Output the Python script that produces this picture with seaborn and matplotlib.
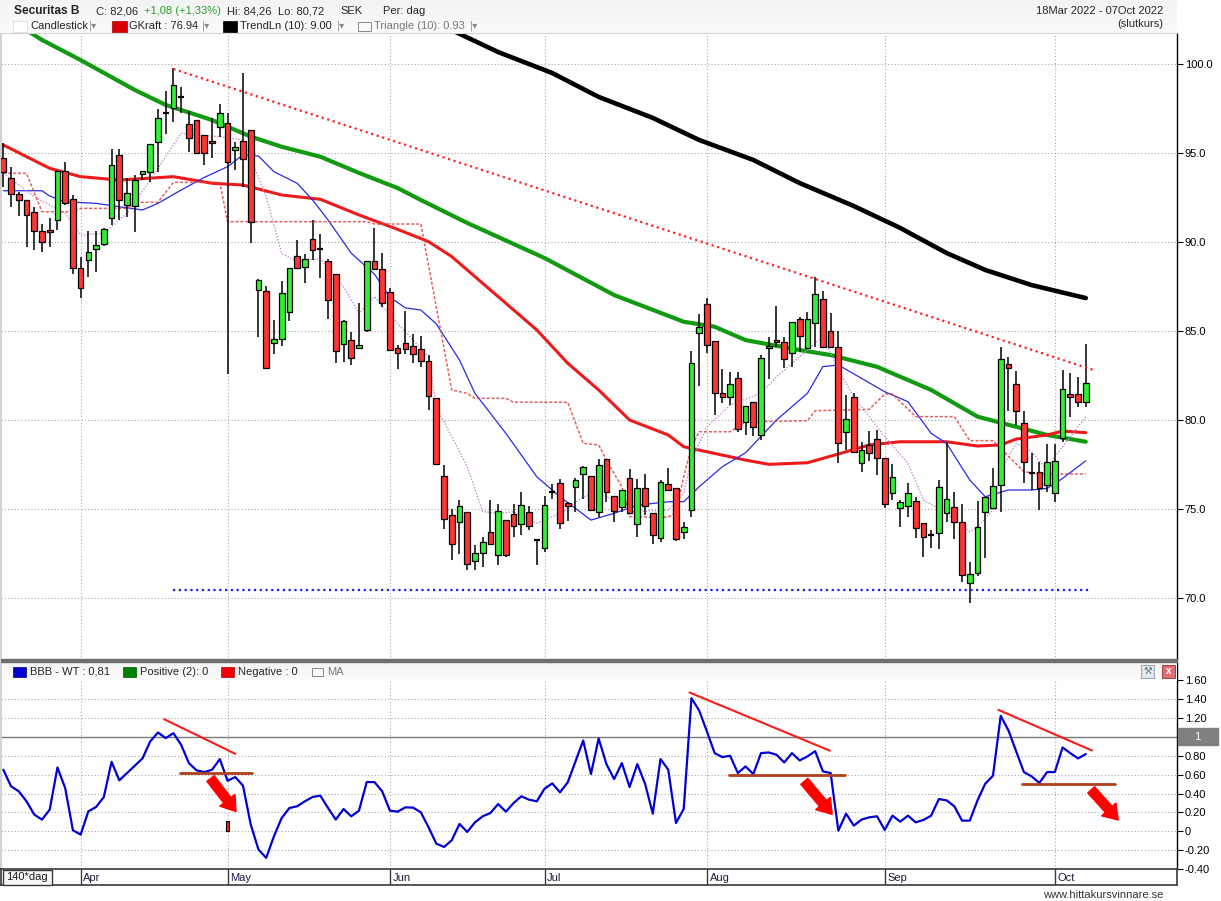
import numpy as np
import matplotlib
matplotlib.use("Agg")
import matplotlib.pyplot as plt
from matplotlib.patches import Rectangle
import seaborn as sns

# ---------------- data ----------------
opens = [94.70,93.58,92.68,92.34,91.67,90.60,90.67,91.24,93.99,92.40,
         88.52,88.99,89.59,89.89,91.33,94.87,92.08,92.02,93.80,93.95,
         95.64,97.27,97.51,98.13,96.61,96.85,96.01,95.69,96.44,96.70,
         95.17,95.67,96.29,87.32,87.27,84.34,84.57,86.07,89.23,88.60,
         90.19,89.59,88.95,88.18,84.29,84.51,84.06,85.07,88.95,88.50,
         87.21,84.07,84.35,84.18,84.00,83.33,81.25,76.87,74.68,74.27,
         74.83,72.06,72.55,73.71,72.43,74.40,74.74,74.14,74.83,73.28,
         72.83,75.96,76.46,75.36,76.24,76.95,76.83,74.83,77.83,75.71,
         75.11,76.76,74.14,76.20,74.78,73.39,76.39,76.20,73.71,74.94,
         84.87,86.50,84.44,81.50,81.27,82.34,79.91,81.00,79.16,84.03,
         84.49,84.36,83.75,85.66,84.03,85.47,86.78,85.00,84.08,79.34,
         81.27,77.57,78.58,78.91,77.85,75.92,75.04,75.17,75.45,74.19,
         73.54,73.64,74.76,75.09,74.25,70.82,71.39,74.81,75.04,76.35,
         83.13,82.00,79.81,77.04,77.06,76.35,75.92,78.97,81.44,81.44,
         80.99]
highs = [95.54,94.23,92.83,92.34,91.99,91.00,91.33,94.00,94.49,92.62,
         89.14,90.64,90.62,90.80,95.21,95.24,93.61,93.76,94.00,95.50,
         97.45,98.48,99.76,98.73,97.38,96.85,96.01,96.95,97.75,97.27,
         95.64,99.48,96.30,87.90,87.51,85.60,87.79,88.56,90.09,89.34,
         91.25,90.43,89.05,88.20,85.60,84.96,86.55,88.95,90.77,89.40,
         87.41,84.24,86.11,84.85,84.70,83.67,81.25,77.45,75.00,75.49,
         74.83,72.96,73.43,75.52,75.30,74.40,75.26,75.96,75.15,73.30,
         75.71,76.42,76.70,75.40,76.76,77.42,76.85,77.83,77.83,75.71,
         76.09,77.27,76.70,76.95,74.78,76.65,77.32,76.20,74.27,83.88,
         85.96,86.84,84.44,82.87,82.68,82.68,80.79,81.00,83.65,84.68,
         86.40,84.68,85.50,85.80,86.09,88.01,87.27,85.99,85.00,81.40,
         81.50,78.78,79.38,79.44,77.85,77.53,75.51,76.44,75.69,74.19,
         73.82,76.63,78.69,75.97,75.26,72.00,75.47,75.70,77.28,84.12,
         83.56,82.75,80.52,78.13,77.66,78.65,78.65,82.81,82.62,82.43,
         84.26]
lows = [93.11,91.99,91.48,89.74,89.55,89.46,89.70,90.67,92.08,88.20,
        86.84,88.01,88.30,89.78,90.96,91.24,91.42,90.58,93.50,93.39,
        93.95,96.07,96.76,97.23,95.07,95.02,94.33,94.70,95.92,82.57,
        94.04,93.11,89.96,84.66,82.90,83.73,84.16,85.56,88.56,87.70,
        88.97,87.95,85.68,83.20,83.26,83.09,83.97,84.94,88.50,86.35,
        83.86,82.89,83.73,83.20,82.98,80.58,77.55,73.90,72.12,72.49,
        71.55,71.55,71.74,73.05,71.84,72.30,73.43,73.52,73.80,71.83,
        72.58,75.58,73.90,74.33,74.83,75.58,74.93,74.55,75.40,74.27,
        74.83,74.74,73.43,74.65,73.05,73.13,76.09,73.20,73.33,74.57,
        81.91,83.75,80.28,80.97,80.84,79.34,79.16,79.10,78.88,82.30,
        84.12,82.90,82.96,83.84,84.00,84.12,84.08,84.08,77.60,78.31,
        78.15,77.10,77.72,76.90,75.07,75.51,74.01,74.57,73.35,72.28,
        72.79,72.73,74.29,73.30,70.92,69.70,71.24,72.23,74.98,74.85,
        80.52,79.72,76.48,76.07,74.94,75.97,75.37,78.78,80.19,80.71,
        80.72]
closes = [93.95,92.68,92.36,91.52,90.62,90.00,90.54,93.99,92.21,88.52,
          87.40,89.44,89.81,90.71,94.31,92.36,92.73,93.48,93.99,95.49,
          96.95,97.27,98.82,98.13,95.82,95.02,95.02,95.54,97.23,94.51,
          95.32,94.64,91.14,87.88,82.94,84.57,87.15,88.56,88.56,89.06,
          89.57,89.59,86.76,83.90,85.58,83.50,84.21,88.95,88.50,86.59,
          83.96,83.79,84.01,83.73,83.33,81.37,77.55,74.46,73.05,75.19,
          71.93,72.55,73.15,73.05,74.89,72.43,74.03,75.24,74.03,73.28,
          75.24,75.96,74.21,75.19,76.61,77.36,74.96,77.49,75.96,74.89,
          76.09,74.78,76.20,75.15,73.52,76.52,76.09,73.33,73.99,83.18,
          85.21,84.21,81.50,81.31,82.00,79.48,80.79,79.59,83.46,84.18,
          84.36,83.41,85.49,84.72,85.66,87.06,84.08,84.08,78.73,80.04,
          78.18,78.30,78.13,77.85,75.26,76.82,75.37,75.88,73.91,73.45,
          73.54,76.22,75.58,74.25,71.29,71.33,74.01,75.69,76.31,83.41,
          82.90,80.51,77.62,77.04,76.16,77.62,77.72,81.72,81.31,80.99,
          82.06]

# oscillator BBB - WT
bbb = [0.653,0.477,0.424,0.318,0.177,0.124,0.229,0.677,0.459,0.011,
       -0.035,0.212,0.258,0.364,0.737,0.540,0.617,0.695,0.773,0.953,
       1.048,0.988,1.041,0.917,0.723,0.646,0.628,0.653,0.766,0.536,
       0.575,0.484,0.071,-0.194,-0.282,-0.053,0.141,0.247,0.265,0.318,
       0.364,0.378,0.247,0.124,0.236,0.159,0.219,0.522,0.522,0.424,
       0.219,0.208,0.254,0.251,0.201,0.042,-0.131,-0.166,-0.095,0.078,
       -0.007,0.095,0.159,0.194,0.289,0.208,0.300,0.371,0.335,0.318,
       0.452,0.508,0.413,0.519,0.741,0.963,0.607,0.984,0.713,0.554,
       0.723,0.470,0.713,0.505,0.187,0.766,0.653,0.088,0.237,1.411,
       1.281,1.059,0.829,0.787,0.801,0.618,0.688,0.607,0.829,0.836,
       0.812,0.730,0.829,0.752,0.794,0.850,0.635,0.618,0.007,0.187,
       0.060,0.124,0.148,0.159,0.014,0.166,0.102,0.166,0.095,0.120,
       0.166,0.342,0.328,0.265,0.113,0.113,0.328,0.505,0.590,1.225,
       1.070,0.847,0.628,0.582,0.512,0.628,0.628,0.889,0.829,0.773,
       0.819]

# moving-average style lines, sampled at day indices
green_idx = [3,5,10,17,21,27,32,36,41,46,51,54,60,70,79,88,92,96,103,107,113,120,126,131,135,140]
green_val = [101.9,101.35,100.22,98.54,97.70,96.85,95.92,95.35,94.79,93.88,93.03,92.36,91.07,89.10,
             87.02,85.52,85.24,84.49,83.93,83.65,82.99,81.69,80.19,79.62,79.16,78.78]
red_idx = [0,6,10,15,22,27,31,36,41,46,51,55,58,62,69,73,77,81,86,88,93,96,99,104,108,112,116,
           122,126,129,131,135,137,140]
red_val = [95.45,94.14,93.67,93.48,93.67,93.30,93.2,92.64,92.40,91.52,90.71,90.02,89.18,87.68,85.06,
           83.19,81.69,80.0,79.16,78.50,78.03,77.75,77.51,77.60,78.09,78.60,78.78,78.78,78.54,78.60,
           78.93,79.16,79.38,79.29]
black_idx = [58,64,71,77,84,90,97,103,110,116,122,127,133,140]
black_val = [101.9,100.67,99.49,98.15,96.97,95.73,94.61,93.31,92.02,90.79,89.38,88.43,87.58,86.85]
blue_idx = [0,5,6,8,12,15,18,20,23,26,29,31,33,35,38,40,42,45,48,50,52,54,56,59,61,65,69,72,76,79,
            82,86,88,90,93,96,100,104,106,108,111,114,117,120,122,125,127,130,133,135,137,140]
blue_val = [92.88,92.88,92.58,92.26,92.17,91.98,91.80,92.17,92.92,93.63,94.23,94.89,94.83,93.95,
            93.30,92.36,91.24,89.37,88.2,86.9,86.3,86.18,85.4,83.37,81.50,79.25,76.81,75.69,74.38,
            74.76,75.22,75.41,75.41,76.25,77.38,78.16,80.0,81.50,83.0,83.09,82.34,81.59,81.03,79.25,
            78.69,76.63,75.69,76.07,76.07,76.16,76.72,77.71]
pink_idx = [0,4,8,10,13,16,19,23,25,28,31,34,36,38,41,44,46,48,50,53,55,56,58,60,62,64,66,69,72,75,
            77,79,81,86,88,89,91,94,98,100,104,106,108,110,112,114,117,119,122,125,126,128,129,131,
            133,135,136,140]
pink_val = [93.86,92.55,91.61,90.39,90.49,91.61,93.48,96.11,96.01,95.92,95.73,92.55,89.37,88.89,89.08,
            87.49,85.99,86.93,85.90,84.49,83.56,80.75,79.06,77.38,74.85,74.76,74.85,74.2,74.76,75.69,
            75.88,75.51,74.85,74.94,75.88,77.75,79.62,80.84,81.5,82.43,83.93,84.68,82.81,81.31,80.19,
            79.06,77.57,75.51,74.76,73.73,74.01,74.94,77.19,78.69,78.22,77.19,77.94,80.19]
gkraft_idx = [0,3,5,9,10,16,17,20,22,28,29,47,48,54,58,60,61,65,66,73,75,77,78,80,81,86,87,88,89,90,
              94,96,104,105,112,114,115,116,118,123,125,128,132,134,140]
gkraft_val = [93.86,93.86,91.70,91.70,91.89,91.89,92.23,92.23,93.35,93.35,91.14,91.14,91.01,91.01,
              81.69,81.5,81.22,81.22,81.0,81.0,78.69,78.6,77.75,76.25,74.57,74.54,74.85,76.81,78.5,
              79.34,79.34,79.9,79.96,80.52,80.6,81.46,81.46,81.03,80.19,80.19,78.84,78.84,77.1,76.97,
              76.97]

# drawn trend lines (main panel)
trend_red_idx = [22, 141]
trend_red_val = [99.72, 82.81]
support_idx = [22, 140.6]
support_val = [70.45, 70.45]

# oscillator annotations
osc_red_lines = [([20.8, 30.0], [1.189, 0.822]),
                 ([88.75, 106.9], [1.472, 0.855]),
                 ([128.7, 140.8], [1.288, 0.857])]
osc_brown_lines = [([22.9, 32.1], [0.618, 0.618]),
                   ([93.8, 108.8], [0.597, 0.597]),
                   ([131.7, 143.8], [0.50, 0.50])]
osc_arrows = [((26.8, 0.56), (30.1, 0.21)),
              ((103.6, 0.53), (107.2, 0.18)),
              ((140.7, 0.44), (144.2, 0.12))]
neg_bar_idx = [29]
neg_bar_val = [0.105]

month_labels = ["Apr", "May", "Jun", "Jul", "Aug", "Sep", "Oct"]
month_start_idx = [10, 29, 50, 70, 91, 114, 136]
price_ticks = [70, 75, 80, 85, 90, 95, 100]
osc_ticks = [-0.4, -0.2, 0.0, 0.2, 0.4, 0.6, 0.8, 1.0, 1.2, 1.4, 1.6]
osc_tick_labels = ["-0.40", "-0.20", "0", "0.20", "0.40", "0.60", "0.80", "", "1.20", "1.40", "1.60"]

# ---------------- figure ----------------
W, H = 1221, 901
sns.set_theme(style="white")
plt.rcParams['font.family'] = ['Liberation Sans', 'DejaVu Sans']

fig = plt.figure(figsize=(W / 100, H / 100), dpi=100)
fig.patch.set_facecolor("white")


def rect(x0, y0, x1, y1):
    return [x0 / W, 1 - y1 / H, (x1 - x0) / W, (y1 - y0) / H]


XL, XR = 1, 1177
ax = fig.add_axes(rect(XL, 33, XR, 660))
ax2 = fig.add_axes(rect(XL, 663, XR, 869), sharex=ax)
axb = fig.add_axes(rect(XL, 869, XR, 885), sharex=ax)
for a in (ax, ax2, axb):
    a.set_facecolor("white")

ax.set_xlim(-0.3, 151.8)
ax.set_ylim(66.52, 101.74)
ax2.set_ylim(-0.395, 1.785)
axb.set_ylim(0, 1)

GRID = "#a8a8a8"
dot = (0, (1, 2))
for p in price_ticks:
    ax.axhline(p, color=GRID, lw=0.8, ls=dot, zorder=1)
for i in month_start_idx:
    ax.axvline(i, color=GRID, lw=0.8, ls=dot, zorder=1)
    ax2.axvline(i, color=GRID, lw=0.8, ls=dot, zorder=1)
for v in osc_ticks:
    if v in (1.0, 1.6, -0.4):
        continue
    ax2.axhline(v, color=GRID, lw=0.8, ls=dot, zorder=1)
ax2.axhline(1.0, color="#7a7a7a", lw=1.0, zorder=1)

# ---- overlay lines on the price chart ----
sns.lineplot(x=black_idx, y=black_val, ax=ax, color="black", lw=3.3, legend=False, zorder=2)
sns.lineplot(x=green_idx, y=green_val, ax=ax, color="#129a12", lw=3.0, legend=False, zorder=2)
sns.lineplot(x=red_idx, y=red_val, ax=ax, color="#ee1a1a", lw=2.2, legend=False, zorder=2)
sns.lineplot(x=blue_idx, y=blue_val, ax=ax, color="#2a2ae0", lw=0.9, legend=False, zorder=2)
ax.plot(pink_idx, pink_val, color="#c48ccc", lw=1.0, ls=(0, (1, 1.2)), zorder=2)
ax.plot(gkraft_idx, gkraft_val, color="#e04444", lw=1.1, ls=(0, (2, 1.2)), alpha=0.85, zorder=2)
ax.plot(trend_red_idx, trend_red_val, color="#ff2222", lw=1.6, ls=(0, (1, 1.6)), zorder=6)
ax.plot(support_idx, support_val, color="#2020e0", lw=1.6, ls=(0, (1, 1.6)), zorder=6)

# ---- candles ----
idx = np.arange(len(closes))
o = np.array(opens); c = np.array(closes); h = np.array(highs); l = np.array(lows)
up = c >= o
ax.vlines(idx, l, h, color="black", lw=1.1, zorder=4)
body_lo = np.minimum(o, c)
body_h = np.abs(c - o)
cols = np.where(up, "#33ee33", "#ff3535")
solid = body_h > 0.03
ax.bar(idx[solid], body_h[solid], bottom=body_lo[solid], width=0.74, color=cols[solid],
       edgecolor="black", linewidth=0.9, zorder=5)
ax.hlines(c[~solid], idx[~solid] - 0.4, idx[~solid] + 0.4, color="black", lw=1.6, zorder=5)

# ---- oscillator ----
sns.lineplot(x=idx, y=bbb, ax=ax2, color="#0000d8", lw=1.6, legend=False, zorder=4)
for xs, ys in osc_red_lines:
    ax2.plot(xs, ys, color="#ff1a1a", lw=1.5, zorder=5)
for xs, ys in osc_brown_lines:
    ax2.plot(xs, ys, color="#b0401c", lw=2.0, zorder=5)
for tail, tip in osc_arrows:
    ax2.annotate("", xy=tip, xytext=tail,
                 arrowprops=dict(arrowstyle="simple,head_width=1.15,head_length=0.85,tail_width=0.55",
                                 color="#ff0000", mutation_scale=12, shrinkA=0, shrinkB=0), zorder=6)
ax2.bar(neg_bar_idx, neg_bar_val, bottom=0, width=0.5, color="#ff2020", edgecolor="black",
        linewidth=0.8, zorder=5)

# ---- axes cosmetics ----
for a in (ax, ax2):
    a.yaxis.tick_right()
    a.tick_params(axis="y", which="both", right=True, left=False, labelright=True, labelleft=False,
                  length=4, width=0.8, pad=1.5, labelsize=8, colors="black", direction="out")
    a.tick_params(axis="x", bottom=False, labelbottom=False, top=False)
    a.spines["right"].set_color("black")
    a.spines["right"].set_linewidth(1.0)
    a.spines["left"].set_color("#cccccc")
    a.spines["top"].set_visible(False)
    a.spines["bottom"].set_visible(False)
    a.grid(False)
ax.set_yticks(price_ticks)
ax.set_yticklabels([f"{p:.1f}" for p in price_ticks])
ax2.set_yticks(osc_ticks)
ax2.set_yticklabels(osc_tick_labels)
ax.set_xlabel(""); ax.set_ylabel(""); ax2.set_xlabel(""); ax2.set_ylabel("")

# bottom month bar
axb.tick_params(axis="both", bottom=False, left=False, labelbottom=False, labelleft=False)
for s in axb.spines.values():
    s.set_color("#3a3a3a"); s.set_linewidth(1.2)
for i, lab in zip(month_start_idx, month_labels):
    axb.axvline(i, color="#3a3a3a", lw=1.0)
    axb.text(i + 0.35, 0.45, lab, fontsize=8, va="center", ha="left", color="#1a1a40")
axb.set_xlabel(""); axb.set_ylabel("")

# ---- overlay in pixel coordinates: header, legends, boxes ----
ov = fig.add_axes([0, 0, 1, 1])
ov.set_xlim(0, W); ov.set_ylim(H, 0); ov.axis("off"); ov.set_zorder(10); ov.patch.set_alpha(0)

grad = np.linspace(0, 1, 50).reshape(-1, 1)
ov.imshow(grad, extent=[0, 1177, 33, 0], cmap=matplotlib.colors.LinearSegmentedColormap.from_list(
    "g", ["#f3f3f3", "#fbfbfb"]), aspect="auto", zorder=0)
ov.imshow(grad, extent=[3, 1177, 681, 663], cmap=matplotlib.colors.LinearSegmentedColormap.from_list(
    "g2", ["#f4f4f4", "#fdfdfd"]), aspect="auto", zorder=0)
ov.set_xlim(0, W); ov.set_ylim(H, 0)
ov.add_patch(Rectangle((1, 659.3), 1176, 2.6, color="#6e6e6e", zorder=1))
ov.plot([0, 1177], [33, 33], color="#d4d4d4", lw=0.8)

fs = 8
ov.text(14, 11, "Securitas B", fontsize=8.6, fontweight="bold", va="center", ha="left")
ov.text(96, 11, "C: 82,06", fontsize=fs, va="center")
ov.text(144, 11, "+1,08 (+1,33%)", fontsize=fs, va="center", color="#2e9a2e")
ov.text(227, 11, "Hi: 84,26", fontsize=fs, va="center")
ov.text(278, 11, "Lo: 80,72", fontsize=fs, va="center")
ov.text(340, 11, "SEK", fontsize=fs, va="center")
ov.text(383, 11, "Per: dag", fontsize=fs, va="center")
ov.text(1163, 11, "18Mar 2022 - 07Oct 2022", fontsize=fs, va="center", ha="right")
ov.text(1163, 24, "(slutkurs)", fontsize=fs, va="center", ha="right")

ry = 26
ov.add_patch(Rectangle((12.5, 20.5), 14.5, 11, facecolor="white", edgecolor="#dddddd", lw=0.6, zorder=2))
ov.text(30.5, ry, "Candlestick", fontsize=fs, va="center")
ov.add_patch(Rectangle((112, 20.5), 15, 11, facecolor="#d80000", edgecolor="#aa0000", lw=0.5, zorder=2))
ov.text(129, ry, "GKraft : 76.94", fontsize=fs, va="center")
ov.add_patch(Rectangle((222.5, 20.5), 14.5, 11, facecolor="black", edgecolor="black", lw=0.5, zorder=2))
ov.text(240, ry, "TrendLn (10): 9.00", fontsize=fs, va="center")
ov.add_patch(Rectangle((357.5, 21.5), 13.5, 9.5, facecolor="#fafafa", edgecolor="#888888", lw=0.7, zorder=2))
ov.text(374, ry, "Triangle (10): 0.93", fontsize=fs, va="center", color="#777777")
for xd in (89, 202, 337, 470):
    ov.text(xd, ry, "|\u25BE", fontsize=7, va="center", color="#888888", family="DejaVu Sans")

ly = 672
ov.add_patch(Rectangle((13, 667), 13, 9.5, facecolor="#0000cc", edgecolor="#000088", lw=0.5, zorder=2))
ov.text(30, ly, "BBB - WT : 0,81", fontsize=fs, va="center")
ov.add_patch(Rectangle((123, 667), 13, 9.5, facecolor="#008000", edgecolor="#005500", lw=0.5, zorder=2))
ov.text(140, ly, "Positive (2): 0", fontsize=fs, va="center")
ov.add_patch(Rectangle((221, 667), 13, 9.5, facecolor="#ee0000", edgecolor="#aa0000", lw=0.5, zorder=2))
ov.text(238, ly, "Negative : 0", fontsize=fs, va="center")
ov.add_patch(Rectangle((312, 667.5), 11, 8.5, facecolor="#fafafa", edgecolor="#888888", lw=0.7, zorder=2))
ov.text(327, ly, "MA", fontsize=fs, va="center", color="#777777")
ov.add_patch(Rectangle((1141, 665), 13, 13, facecolor="#e4e8ee", edgecolor="#9aa4b0", lw=0.7, zorder=2))
ov.text(1147.5, 671.5, "\u2692", fontsize=7, va="center", ha="center", color="#667788", family="DejaVu Sans")
ov.add_patch(Rectangle((1162, 665), 13, 13, facecolor="#e07070", edgecolor="#a04040", lw=0.7, zorder=2))
ov.text(1168.5, 671.5, "x", fontsize=7, va="center", ha="center", color="#ffffff", fontweight="bold")

# value box "1" on oscillator axis
ov.add_patch(Rectangle((1177.5, 727.5), 40, 17.5, facecolor="#808080", edgecolor="#808080", zorder=2))
ov.text(1197.5, 736.5, "1", fontsize=8, va="center", ha="center", color="white")

# bottom left period box
ov.add_patch(Rectangle((3, 870), 49, 15, facecolor="#f7f7f7", edgecolor="#3a3a3a", lw=1.0, zorder=2))
ov.text(6, 877.5, "140*dag", fontsize=8, va="center", ha="left", color="#1a1a1a", zorder=3)

ov.text(1163, 895.5, "www.hittakursvinnare.se", fontsize=8, va="center", ha="right", color="#333333")

fig.savefig("out.png", dpi=100)
